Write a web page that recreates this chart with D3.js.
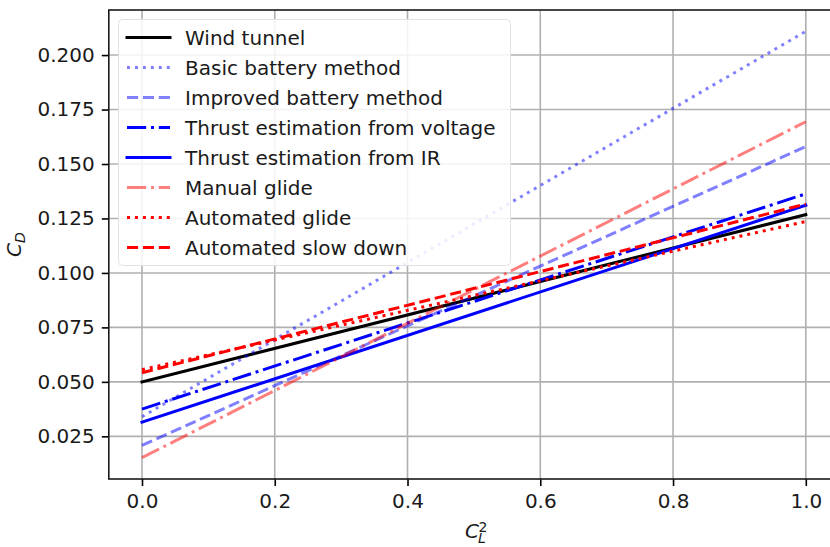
<!DOCTYPE html>
<html>
<head>
<meta charset="utf-8">
<script src="https://cdn.jsdelivr.net/npm/d3@7"></script>
<style>
  html, body { margin: 0; padding: 0; background: #fff; }
  text { font-family: "DejaVu Sans", sans-serif; }
</style>
</head>
<body>
<svg id="chart" width="830" height="547"></svg>
<script>
// ---- data (values read at C_L^2 = 0 and C_L^2 = 1) ----
const xValues = [0, 1];
const seriesNames = [
  "Wind tunnel",
  "Basic battery method",
  "Improved battery method",
  "Thrust estimation from voltage",
  "Thrust estimation from IR",
  "Manual glide",
  "Automated glide",
  "Automated slow down"
];
const windTunnel      = [0.0500, 0.1268];
const basicBattery    = [0.0340, 0.2109];
const improvedBattery = [0.0208, 0.1580];
const thrustVoltage   = [0.0375, 0.1363];
const thrustIR        = [0.0315, 0.1311];
const manualGlide     = [0.0152, 0.1694];
const automatedGlide  = [0.0556, 0.1236];
const automatedSlow   = [0.0542, 0.1316];
const seriesValues = [windTunnel, basicBattery, improvedBattery, thrustVoltage,
                      thrustIR, manualGlide, automatedGlide, automatedSlow];
const xTicks = [0.0, 0.2, 0.4, 0.6, 0.8, 1.0];
const yTicks = [0.025, 0.050, 0.075, 0.100, 0.125, 0.150, 0.175, 0.200];

// ---- styles ----
const styles = [
  {color: "#000000", opacity: 1,   dash: null},
  {color: "#0000ff", opacity: 0.5, dash: "3,4.95"},
  {color: "#0000ff", opacity: 0.5, dash: "11.1,4.8"},
  {color: "#0000ff", opacity: 1,   dash: "19.2,4.8,3,4.8"},
  {color: "#0000ff", opacity: 1,   dash: null},
  {color: "#ff0000", opacity: 0.5, dash: "19.2,4.8,3,4.8"},
  {color: "#ff0000", opacity: 1,   dash: "3,4.95"},
  {color: "#ff0000", opacity: 1,   dash: "11.1,4.8"}
];

const svg = d3.select("#chart");
const pLeft = 108.8, pRight = 839, pTop = 10, pBottom = 479;

const allY = seriesValues.flat();
const yMin = d3.min(allY), yMax = d3.max(allY);
const yPad = (yMax - yMin) * 0.05;

const x = d3.scaleLinear().domain([-0.05, 1.05]).range([pLeft, pRight]);
const y = d3.scaleLinear().domain([yMin - yPad, yMax + yPad]).range([pBottom, pTop]);

const fontSize = 20;

// grid
const grid = svg.append("g");
grid.selectAll("line.gx").data(xTicks).join("line")
  .attr("x1", d => x(d)).attr("x2", d => x(d))
  .attr("y1", pTop).attr("y2", pBottom)
  .attr("stroke", "#b0b0b0").attr("stroke-width", 1.6);
grid.selectAll("line.gy").data(yTicks).join("line")
  .attr("y1", d => y(d)).attr("y2", d => y(d))
  .attr("x1", pLeft).attr("x2", pRight)
  .attr("stroke", "#b0b0b0").attr("stroke-width", 1.6);

// lines
const line = d3.line().x((d, i) => x(xValues[i])).y(d => y(d));
const plot = svg.append("g");
seriesValues.forEach((vals, i) => {
  const s = styles[i];
  plot.append("path")
    .attr("d", line(vals))
    .attr("fill", "none")
    .attr("stroke", s.color)
    .attr("stroke-opacity", s.opacity)
    .attr("stroke-width", 3)
    .attr("stroke-linecap", s.dash ? "butt" : "square")
    .attr("stroke-dasharray", s.dash);
});

// axes
const xAxis = d3.axisBottom(x).tickValues(xTicks).tickFormat(d3.format(".1f"))
  .tickSizeInner(7).tickSizeOuter(0).tickPadding(7);
const yAxis = d3.axisLeft(y).tickValues(yTicks).tickFormat(d3.format(".3f"))
  .tickSizeInner(7).tickSizeOuter(0).tickPadding(7);

const gx = svg.append("g").attr("transform", `translate(0,${pBottom})`).call(xAxis);
const gy = svg.append("g").attr("transform", `translate(${pLeft},0)`).call(yAxis);
[gx, gy].forEach(g => {
  g.selectAll(".domain").remove();
  g.selectAll(".tick line").attr("stroke", "#000").attr("stroke-width", 1.6);
  g.selectAll(".tick text").attr("font-size", fontSize)
    .attr("font-family", "DejaVu Sans").attr("fill", "#1a1a1a");
});
gx.selectAll(".tick text").attr("dy", "0.76em");

// spines
svg.append("rect")
  .attr("x", pLeft).attr("y", pTop)
  .attr("width", pRight - pLeft).attr("height", pBottom - pTop)
  .attr("fill", "none").attr("stroke", "#1a1a1a").attr("stroke-width", 1.6);

// legend
const lg = svg.append("g");
lg.append("rect")
  .attr("x", 118.5).attr("y", 19.5).attr("width", 392).attr("height", 246)
  .attr("rx", 4).attr("ry", 4)
  .attr("fill", "#ffffff").attr("fill-opacity", 0.85)
  .attr("stroke", "#e2e2e2").attr("stroke-width", 1);
seriesNames.forEach((name, i) => {
  const s = styles[i];
  const ry = 37.5 + i * 30;
  lg.append("line")
    .attr("x1", 127).attr("x2", 170).attr("y1", ry).attr("y2", ry)
    .attr("stroke", s.color).attr("stroke-opacity", s.opacity)
    .attr("stroke-width", 3)
    .attr("stroke-linecap", s.dash ? "butt" : "square")
    .attr("stroke-dasharray", s.dash);
  lg.append("text")
    .attr("x", 185).attr("y", ry + 7)
    .attr("font-size", fontSize).attr("fill", "#1a1a1a")
    .text(name);
});

// y label C_D
const yl = svg.append("g").attr("transform", "translate(21,244.5) rotate(-90)");
const ylt = yl.append("text").attr("text-anchor", "middle")
  .attr("font-size", fontSize).attr("fill", "#1a1a1a");
ylt.append("tspan").attr("font-style", "italic").text("C");
ylt.append("tspan").attr("font-style", "italic").attr("font-size", 14)
  .attr("dy", 4).text("D");

// x label C_L^2 (one text element, stacked sub/superscript)
const xlt = svg.append("text").attr("x", 465).attr("y", 538)
  .attr("font-size", fontSize).attr("fill", "#1a1a1a");
xlt.append("tspan").attr("font-style", "italic").text("C");
xlt.append("tspan").attr("x", 478).attr("dy", 5).attr("font-size", 14)
  .attr("font-style", "italic").text("L");
xlt.append("tspan").attr("x", 478.5).attr("dy", -11).attr("font-size", 14).text("2");
</script>
</body>
</html>
